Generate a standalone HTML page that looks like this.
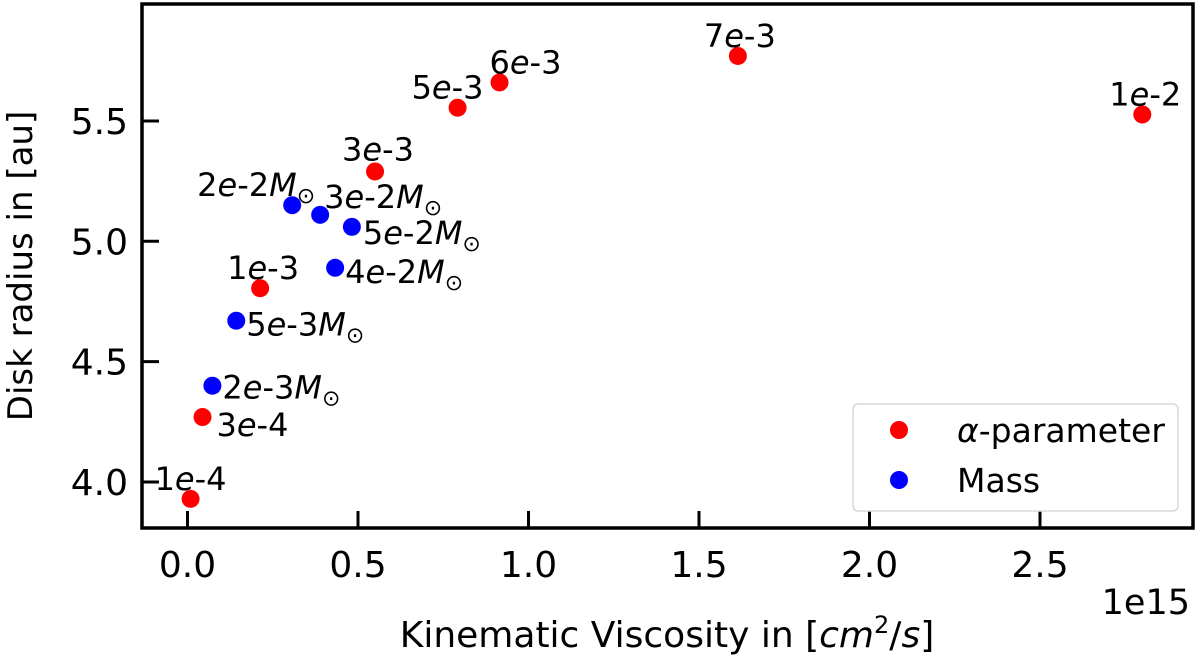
<!DOCTYPE html>
<html><head><meta charset="utf-8"><style>
body{margin:0;background:#fff;}
svg{display:block;font-family:"DejaVu Sans","Liberation Sans",sans-serif;}
</style></head><body>
<svg id="chart" width="1200" height="660" viewBox="0 0 1200 660"></svg>
<script>
const alphaLabels=["1e-4","3e-4","1e-3","3e-3","5e-3","6e-3","7e-3","1e-2"];
const alphaX=[0.009,0.044,0.213,0.55,0.792,0.915,1.614,2.80];
const alphaY=[3.93,4.27,4.805,5.29,5.555,5.66,5.77,5.527];
const massLabels=["2e-3","5e-3","2e-2","3e-2","5e-2","4e-2"];
const massX=[0.073,0.143,0.307,0.389,0.482,0.433];
const massY=[4.40,4.67,5.15,5.11,5.06,4.89];
const xTicks=[0,0.5,1.0,1.5,2.0,2.5];
const xTickLabels=["0.0","0.5","1.0","1.5","2.0","2.5"];
const yTicks=[4.0,4.5,5.0,5.5];
const yTickLabels=["4.0","4.5","5.0","5.5"];
// label offsets (layout only)
const alphaOff=[[-36,-9],[14,19],[-33,-9],[-33,-11],[-46,-9],[-10,-9],[-34,-9],[-33,-9]];
const massOff=[[10,13],[10,15],[-95,-9],[4,-7],[11,17],[10,15]];

const NS="http://www.w3.org/2000/svg";
const svg=document.getElementById('chart');
const L=142,R=1193,T=4,B=528;
const sx=v=>187.5+v*341;
const sy=v=>482-(v-4.0)*240.7;
function mk(tag,attrs,parent){const e=document.createElementNS(NS,tag);for(const k in attrs)e.setAttribute(k,attrs[k]);(parent||svg).appendChild(e);return e;}

xTicks.forEach((t,i)=>{
  const l=mk('line',{x1:sx(t),x2:sx(t),y1:B,y2:B-17,stroke:'#000','stroke-width':3});
  
  
  const tx=mk('text',{x:sx(t),y:B+49,'font-size':36,'text-anchor':'middle'});
  tx.textContent=xTickLabels[i];
  
  
});
yTicks.forEach((t,i)=>{
  const l=mk('line',{x1:L,x2:L+17,y1:sy(t),y2:sy(t),stroke:'#000','stroke-width':3});
  
  
  const tx=mk('text',{x:L-14,y:sy(t)+13,'font-size':36,'text-anchor':'end'});
  tx.textContent=yTickLabels[i];
  
  
});
const frame=mk('rect',{x:L,y:T,width:R-L,height:B-T,fill:'none',stroke:'#000','stroke-width':3.5});



function label(x,y,txt,mass){
  const t=mk('text',{x:x,y:y,'font-size':32});
  const p=txt.split('e');
  const a=mk('tspan',{},t);a.textContent=p[0];
  const b=mk('tspan',{'font-style':'italic'},t);b.textContent='e';
  const c=mk('tspan',{},t);c.textContent=p[1];
  if(mass){
    const m=mk('tspan',{'font-style':'italic'},t);m.textContent='M';
    const s=mk('tspan',{'font-size':22,dy:7},t);s.textContent='⊙';
  }
  return t;
}
alphaX.forEach((v,i)=>{
  const c=mk('circle',{cx:sx(v),cy:sy(alphaY[i]),r:9,fill:'#ff0000'});
  
  
  const t=label(sx(v)+alphaOff[i][0],sy(alphaY[i])+alphaOff[i][1],alphaLabels[i],false);
  
  
});
massX.forEach((v,i)=>{
  const c=mk('circle',{cx:sx(v),cy:sy(massY[i]),r:9,fill:'#0000ff'});
  
  
  const t=label(sx(v)+massOff[i][0],sy(massY[i])+massOff[i][1],massLabels[i],true);
  
  
});
</script>
<svg style="position:absolute;left:0;top:0" width="1200" height="660">
  <g>
    <rect x="853" y="404" width="325" height="107" rx="5" fill="#fff" fill-opacity="0.8" stroke="#d8d8d8" stroke-width="1.5"/>
    <circle cx="899" cy="430" r="9" fill="#ff0000"/>
    <text x="957" y="442" font-size="33" font-family="DejaVu Sans, sans-serif"><tspan font-style="italic">α</tspan>-parameter</text>
    <circle cx="899" cy="480" r="9" fill="#0000ff"/>
    <text x="957" y="492" font-size="33" font-family="DejaVu Sans, sans-serif">Mass</text>
  </g>
  <text x="1190" y="614" font-size="35" text-anchor="end" font-family="DejaVu Sans, sans-serif">1e15</text>
  <text x="667" y="647" font-size="36" text-anchor="middle" font-family="DejaVu Sans, sans-serif">Kinematic Viscosity in [<tspan font-style="italic">cm</tspan><tspan font-size="24" dy="-14">2</tspan><tspan dy="14">/</tspan><tspan font-style="italic">s</tspan>]</text>
  <text transform="translate(32,266) rotate(-90)" font-size="34" text-anchor="middle" font-family="DejaVu Sans, sans-serif">Disk radius in [au]</text>
</svg>
</body></html>
